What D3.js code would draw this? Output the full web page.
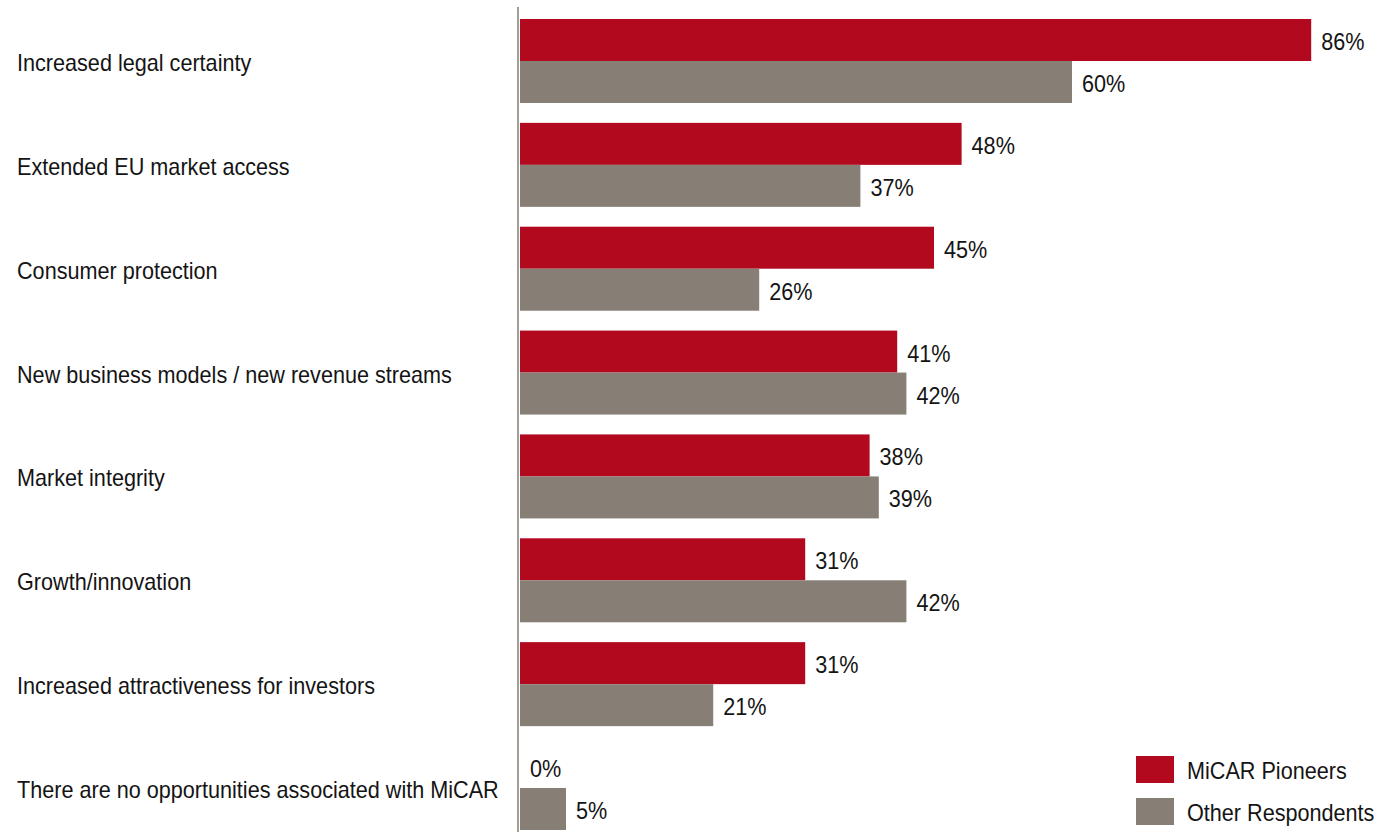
<!DOCTYPE html>
<html>
<head>
<meta charset="utf-8">
<script src="https://cdn.jsdelivr.net/npm/d3@7"></script>
<style>
  html, body { margin: 0; padding: 0; background: #ffffff; }
  svg { display: block; }
  text { font-family: "Liberation Sans", Arial, sans-serif; fill: #141414; }
</style>
</head>
<body>
<svg id="chart" width="1378" height="832"></svg>
<script>
// Opportunities associated with MiCAR, share of respondents (%)
const categories = [
  "Increased legal certainty",
  "Extended EU market access",
  "Consumer protection",
  "New business models / new revenue streams",
  "Market integrity",
  "Growth/innovation",
  "Increased attractiveness for investors",
  "There are no opportunities associated with MiCAR"
];
const seriesNames = ["MiCAR Pioneers", "Other Respondents"];
const pioneers = [86, 48, 45, 41, 38, 31, 31, 0];
const others   = [60, 37, 26, 42, 39, 42, 21, 5];
const colors = ["#b2091e", "#877e76"];

const svg = d3.select("#chart");
const FONT = 23, SX = 0.94;   // slightly condensed text

const x = d3.scaleLinear().domain([0, 100]).range([520, 1440]);
const y = d3.scaleBand().domain(categories).range([19, 830]).paddingInner(0.1912).paddingOuter(0);
const sub = d3.scaleBand().domain(seriesNames).range([0, y.bandwidth()]);

// helper: condensed text at a position
function label(g, tx, ty, str, anchor) {
  return g.append("text")
    .attr("transform", `translate(${tx},${ty}) scale(${SX},1)`)
    .attr("font-size", FONT)
    .attr("text-anchor", anchor || "start")
    .text(str);
}

const data = categories.map((c, i) => ({ cat: c, vals: [pioneers[i], others[i]] }));

// bars
const groups = svg.append("g").selectAll("g").data(data).join("g")
  .attr("transform", d => `translate(0,${y(d.cat)})`);

groups.selectAll("rect").data(d => d.vals.map((v, j) => ({ v, s: seriesNames[j], j })))
  .join("rect")
  .attr("x", x(0))
  .attr("y", d => sub(d.s))
  .attr("width", d => x(d.v) - x(0))
  .attr("height", sub.bandwidth())
  .attr("fill", d => colors[d.j]);

// value labels
groups.each(function(d) {
  const g = d3.select(this);
  d.vals.forEach((v, j) => {
    label(g, x(v) + 10, sub(seriesNames[j]) + sub.bandwidth() / 2 + 10, v + "%");
  });
});

// category labels
const catG = svg.append("g");
categories.forEach(c => {
  label(catG, 17, y(c) + y.bandwidth() / 2 + 10, c);
});

// vertical axis line
svg.append("line")
  .attr("x1", 518).attr("x2", 518)
  .attr("y1", 7).attr("y2", 832)
  .attr("stroke", "#a39b94").attr("stroke-width", 2);

// legend
const leg = svg.append("g");
seriesNames.forEach((s, j) => {
  const ly = 756 + j * 42;
  leg.append("rect").attr("x", 1136).attr("y", ly).attr("width", 38).attr("height", 27).attr("fill", colors[j]);
  label(leg, 1187, ly + 23, s);
});
</script>
</body>
</html>
